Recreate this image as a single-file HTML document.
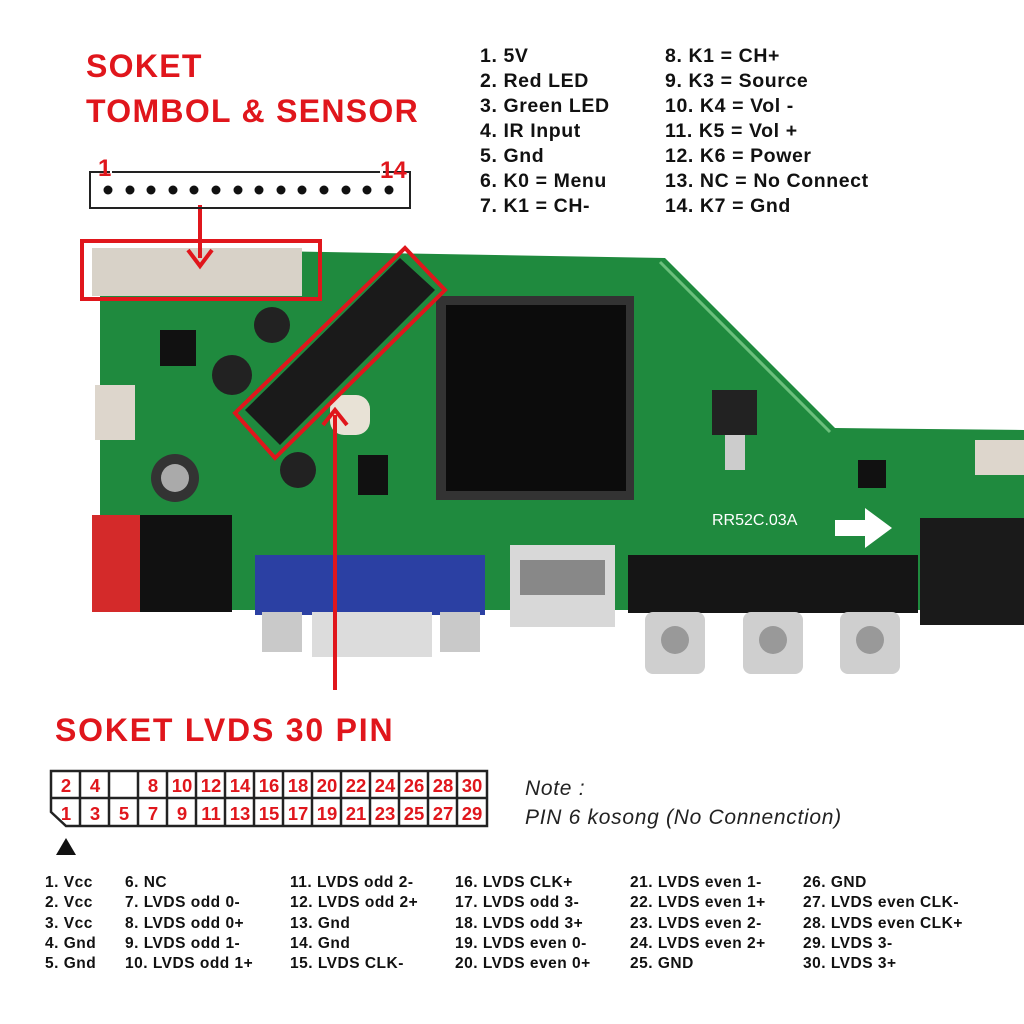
<!DOCTYPE html><html><head><style>
body{margin:0;width:1024px;height:1024px;background:#fff;position:relative;overflow:hidden;font-family:"Liberation Sans",sans-serif}
.t{position:absolute;white-space:nowrap}
.red{color:#e0161c;font-weight:bold;font-size:32px;letter-spacing:1.3px}
.pl{font-weight:bold;font-size:19.5px;line-height:25px;color:#111;letter-spacing:0.6px}
.bl{font-weight:bold;font-size:15.5px;line-height:20.3px;color:#111;letter-spacing:0.5px}
</style></head><body>
<svg width="1024" height="1024" style="position:absolute;left:0;top:0">
<path d="M100 248 L665 258 L835 428 L1024 430 L1024 610 L100 610 Z" fill="#1f8a3e"/>
<path d="M660 262 L830 432" stroke="#6bc07c" stroke-width="3"/>
<rect x="92" y="248" width="210" height="48" fill="#d8d2c8"/>
<rect x="95" y="385" width="40" height="55" fill="#ddd6cc"/>
<rect x="975" y="440" width="49" height="35" fill="#ddd6cc"/>
<rect x="92" y="515" width="48" height="97" fill="#d42a2a"/>
<rect x="140" y="515" width="92" height="97" fill="#111"/>
<circle cx="272" cy="325" r="18" fill="#222"/><circle cx="175" cy="478" r="24" fill="#333"/><circle cx="175" cy="478" r="14" fill="#aaa"/>
<circle cx="232" cy="375" r="20" fill="#222"/><circle cx="298" cy="470" r="18" fill="#222"/>
<rect x="160" y="330" width="36" height="36" fill="#111"/>
<rect x="358" y="455" width="30" height="40" fill="#111"/>
<rect x="330" y="395" width="40" height="40" rx="14" fill="#e8e2d6"/>
<path d="M245 410 L400 258 L435 290 L280 445 Z" fill="#1a1a1a"/>
<rect x="436" y="296" width="198" height="204" fill="#333"/>
<rect x="446" y="305" width="180" height="186" fill="#0c0c0c"/>
<rect x="712" y="390" width="45" height="45" fill="#222"/><rect x="725" y="435" width="20" height="35" fill="#ccc"/>
<rect x="858" y="460" width="28" height="28" fill="#111"/>
<rect x="255" y="555" width="230" height="60" fill="#2b40a3"/>
<rect x="262" y="612" width="40" height="40" fill="#c9c9c9"/>
<rect x="312" y="612" width="120" height="45" fill="#dcdcdc"/>
<rect x="440" y="612" width="40" height="40" fill="#c9c9c9"/>
<rect x="510" y="545" width="105" height="82" fill="#d8d8d8"/>
<rect x="520" y="560" width="85" height="35" fill="#888"/>
<rect x="628" y="555" width="290" height="58" fill="#151515"/>
<g fill="#cfcfcf"><rect x="645" y="612" width="60" height="62" rx="8"/><rect x="743" y="612" width="60" height="62" rx="8"/><rect x="840" y="612" width="60" height="62" rx="8"/></g>
<g fill="#999"><circle cx="675" cy="640" r="14"/><circle cx="773" cy="640" r="14"/><circle cx="870" cy="640" r="14"/></g>
<rect x="920" y="518" width="104" height="107" fill="#1a1a1a"/>
<path d="M835 520 L865 520 L865 508 L892 528 L865 548 L865 536 L835 536Z" fill="#fff"/>
<text x="712" y="525" fill="#fff" font-size="16" font-family="Liberation Sans">RR52C.03A</text>
<rect x="82" y="241" width="238" height="58" fill="none" stroke="#e0161c" stroke-width="4"/>
<path d="M235 413 L405 248 L445 290 L275 458 Z" fill="none" stroke="#e0161c" stroke-width="4"/>
<path d="M200 205 L200 258" stroke="#e0161c" stroke-width="4"/>
<path d="M188 250 L200 266 L212 250" fill="none" stroke="#e0161c" stroke-width="4"/>
<path d="M335 690 L335 415" stroke="#e0161c" stroke-width="4"/>
<path d="M323 425 L335 410 L347 425" fill="none" stroke="#e0161c" stroke-width="4"/>
<path d="M110 172 L90 172 L90 208 L410 208 L410 172 L383 172" fill="none" stroke="#222" stroke-width="2"/>
<path d="M112 172 L380 172" stroke="#222" stroke-width="2"/>
<g fill="#111">
<circle cx="108" cy="190" r="4.5"/><circle cx="130" cy="190" r="4.5"/><circle cx="151" cy="190" r="4.5"/><circle cx="173" cy="190" r="4.5"/><circle cx="194" cy="190" r="4.5"/><circle cx="216" cy="190" r="4.5"/><circle cx="238" cy="190" r="4.5"/><circle cx="259" cy="190" r="4.5"/><circle cx="281" cy="190" r="4.5"/><circle cx="302" cy="190" r="4.5"/><circle cx="324" cy="190" r="4.5"/><circle cx="346" cy="190" r="4.5"/><circle cx="367" cy="190" r="4.5"/><circle cx="389" cy="190" r="4.5"/></g>
<text x="98" y="176" fill="#e0161c" font-size="24" font-weight="bold" font-family="Liberation Sans">1</text>
<text x="380" y="178" fill="#e0161c" font-size="24" font-weight="bold" font-family="Liberation Sans">14</text>
<g stroke="#222" stroke-width="2.5" fill="none">
<path d="M51 771 L487 771 L487 826 L66 826 L51 812 Z"/>
<path d="M51 798 L487 798"/>
</g>
<g stroke="#222" stroke-width="2.5">
<path d="M80 771V826M109 771V826M138 771V826M167 771V826M196 771V826M225 771V826M254 771V826M283 771V826M312 771V826M341 771V826M370 771V826M399 771V826M428 771V826M457 771V826"/>
</g>
<g fill="#e0161c" font-size="18.5" font-weight="bold" font-family="Liberation Sans" text-anchor="middle">
<text x="66" y="792">2</text><text x="95" y="792">4</text><text x="153" y="792">8</text><text x="182" y="792">10</text><text x="211" y="792">12</text><text x="240" y="792">14</text><text x="269" y="792">16</text><text x="298" y="792">18</text><text x="327" y="792">20</text><text x="356" y="792">22</text><text x="385" y="792">24</text><text x="414" y="792">26</text><text x="443" y="792">28</text><text x="472" y="792">30</text>
<text x="66" y="820">1</text><text x="95" y="820">3</text><text x="124" y="820">5</text><text x="153" y="820">7</text><text x="182" y="820">9</text><text x="211" y="820">11</text><text x="240" y="820">13</text><text x="269" y="820">15</text><text x="298" y="820">17</text><text x="327" y="820">19</text><text x="356" y="820">21</text><text x="385" y="820">23</text><text x="414" y="820">25</text><text x="443" y="820">27</text><text x="472" y="820">29</text>
</g>
<path d="M56 855 L66 838 L76 855Z" fill="#111"/>
</svg>
<div class="t red" style="left:86px;top:48px">SOKET</div>
<div class="t red" style="left:86px;top:93px">TOMBOL &amp; SENSOR</div>
<div class="t red" style="left:55px;top:712px;letter-spacing:1.8px">SOKET LVDS 30 PIN</div>
<div class="t pl" style="left:480px;top:44px">1. 5V<br>2. Red LED<br>3. Green LED<br>4. IR Input<br>5. Gnd<br>6. K0 = Menu<br>7. K1 = CH-</div>
<div class="t pl" style="left:665px;top:44px">8. K1 = CH+<br>9. K3 = Source<br>10. K4 = Vol -<br>11. K5 = Vol +<br>12. K6 = Power<br>13. NC = No Connect<br>14. K7 = Gnd</div>
<div class="t" style="left:525px;top:774px;font-style:italic;font-size:21px;line-height:29px;color:#222;letter-spacing:0.7px">Note :<br>PIN 6 kosong (No Connenction)</div>
<div class="t bl" style="left:45px;top:873px">1. Vcc<br>2. Vcc<br>3. Vcc<br>4. Gnd<br>5. Gnd</div>
<div class="t bl" style="left:125px;top:873px">6. NC<br>7. LVDS odd 0-<br>8. LVDS odd 0+<br>9. LVDS odd 1-<br>10. LVDS odd 1+</div>
<div class="t bl" style="left:290px;top:873px">11. LVDS odd 2-<br>12. LVDS odd 2+<br>13. Gnd<br>14. Gnd<br>15. LVDS CLK-</div>
<div class="t bl" style="left:455px;top:873px">16. LVDS CLK+<br>17. LVDS odd 3-<br>18. LVDS odd 3+<br>19. LVDS even 0-<br>20. LVDS even 0+</div>
<div class="t bl" style="left:630px;top:873px">21. LVDS even 1-<br>22. LVDS even 1+<br>23. LVDS even 2-<br>24. LVDS even 2+<br>25. GND</div>
<div class="t bl" style="left:803px;top:873px">26. GND<br>27. LVDS even CLK-<br>28. LVDS even CLK+<br>29. LVDS 3-<br>30. LVDS 3+</div>
</body></html>
